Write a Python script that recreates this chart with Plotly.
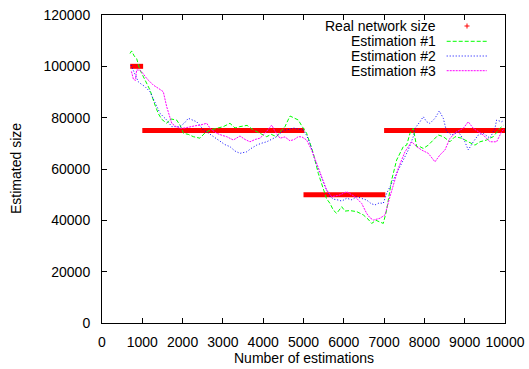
import plotly.graph_objects as go

# ---- data ----
real_x_start = [700, 1000, 5000, 7000]
real_x_end = [1020, 5020, 7030, 10000]
real_value = [100000, 75000, 50000, 75000]

est1_x = [695, 735, 800, 860, 943, 1025, 1110, 1190, 1315, 1400, 1480, 1605, 1700, 1850, 1940, 2020, 2140, 2265, 2430, 2550,
          2680, 2850, 3010, 3175, 3300, 3420, 3600, 3755, 3900, 4085, 4200, 4330, 4450, 4540, 4665, 4760, 4870, 4950, 5037, 5078,
          5160, 5243, 5367, 5491, 5570, 5657, 5740, 5823, 5947, 6030, 6150, 6319, 6484, 6600, 6691, 6800, 6897, 6980, 7063, 7187,
          7270, 7311, 7476, 7560, 7642, 7724, 7808, 7890, 7972, 8097, 8221, 8345, 8469, 8634, 8759, 8924, 9088, 9254, 9378, 9544,
          9709, 9875, 9960]
est1_y = [105000, 106000, 104000, 103000, 98600, 96000, 93500, 90800, 84900, 81500, 79400, 77800, 79500, 79100, 77000, 73900, 73500, 72600, 72000, 74000,
          75200, 75800, 76500, 77800, 76000, 76500, 77000, 75200, 74000, 72600, 73500, 72600, 75000, 76500, 80650, 80000, 79100, 77000, 75200, 73900,
          70100, 66100, 58300, 51800, 48500, 46600, 44000, 42700, 45300, 43600, 43800, 43400, 42100, 40500, 38800, 40000, 39500, 38800, 44000, 55700,
          60900, 63500, 68700, 69300, 73900, 75850, 68700, 68700, 68000, 69300, 71300, 73250, 72600, 70600, 72600, 72000, 70600, 69300, 70600, 71300,
          72600, 75850, 77000]

est2_x = [720, 780, 820, 900, 980, 1067, 1190, 1315, 1440, 1605, 1730, 1935, 2050, 2142, 2250, 2349, 2430, 2514, 2640, 2762,
          2928, 3050, 3176, 3300, 3424, 3590, 3700, 3838, 3950, 4086, 4200, 4334, 4416, 4540, 4650, 4747, 4880, 4995, 5080, 5160,
          5285, 5409, 5533, 5657, 5760, 5863, 5950, 6070, 6200, 6319, 6450, 6567, 6680, 6774, 6880, 6980, 7063, 7187, 7394, 7600,
          7724, 7766, 7890, 7972, 8055, 8138, 8262, 8370, 8469, 8552, 8676, 8842, 9006, 9088, 9213, 9337, 9461, 9627, 9751, 9792,
          9916, 9980]
est2_y = [100500, 98500, 97300, 94000, 93000, 92100, 90100, 85600, 81700, 79100, 76500, 76500, 78000, 79750, 79000, 78400, 77000, 75200, 74000, 72600,
          70600, 69500, 68700, 67000, 66100, 66700, 68000, 69300, 70000, 70600, 71500, 72600, 73900, 75200, 75500, 76000, 75500, 75200, 73000, 70000,
          63500, 58300, 53100, 49200, 48200, 47900, 47500, 48600, 48000, 49200, 48500, 47900, 46500, 46000, 46800, 46600, 50500, 54400, 60900, 67400,
          72600, 75850, 78400, 80400, 78400, 77800, 79750, 82600, 79750, 74500, 73250, 74500, 70600, 67400, 70600, 73250, 73900, 72000, 75850, 79100,
          78400, 79000]

est3_x = [730, 780, 830, 860, 930, 980, 1108, 1273, 1440, 1521, 1605, 1670, 1730, 1835, 1935, 2060, 2183, 2300, 2431, 2597,
          2700, 2846, 3000, 3094, 3258, 3424, 3550, 3672, 3800, 3920, 4050, 4210, 4300, 4416, 4540, 4664, 4770, 4870, 4960, 5078,
          5202, 5326, 5450, 5574, 5698, 5800, 5905, 6070, 6180, 6277, 6443, 6567, 6650, 6732, 6897, 7021, 7145, 7270, 7352, 7518,
          7684, 7808, 7931, 8097, 8262, 8386, 8510, 8634, 8800, 8965, 9088, 9213, 9337, 9461, 9627, 9792, 9916, 9970]
est3_y = [98000, 95000, 94500, 98600, 98500, 98000, 95300, 92700, 91000, 90100, 84300, 80500, 77800, 76500, 75850, 76000, 76500, 76800, 77100, 77800,
          75500, 73900, 73000, 72600, 71300, 72850, 71500, 70600, 71500, 72000, 74000, 77100, 74500, 72000, 72500, 71000, 71500, 72600, 72500, 71300,
          67400, 62200, 57000, 51800, 49200, 49500, 49900, 51150, 50000, 49200, 46600, 42700, 41000, 40100, 40800, 42100, 49200, 56400, 60300, 66700,
          70600, 68700, 67400, 66100, 62800, 65500, 67400, 72000, 74500, 75850, 78400, 75850, 74500, 73250, 70600, 70600, 74500, 75500]

x_ticks = [0, 1000, 2000, 3000, 4000, 5000, 6000, 7000, 8000, 9000, 10000]
y_ticks = [0, 20000, 40000, 60000, 80000, 100000, 120000]

legend_labels = ["Real network size", "Estimation #1", "Estimation #2", "Estimation #3"]

RED = "#ff0000"
GREEN = "#00ff00"
BLUE = "#0000ff"
MAGENTA = "#ff00ff"
FONT = "Liberation Sans, Arial, sans-serif"

fig = go.Figure()

# real network size band
rx, ry = [], []
for a, b, v in zip(real_x_start, real_x_end, real_value):
    rx += [a, b, None]
    ry += [v, v, None]
fig.add_trace(go.Scatter(x=rx, y=ry, mode="lines", line=dict(color=RED, width=5),
                         name=legend_labels[0], showlegend=False, hoverinfo="skip"))

fig.add_trace(go.Scatter(x=est1_x, y=est1_y, mode="lines", name=legend_labels[1], showlegend=False,
                         line=dict(color=GREEN, width=1, dash="4px,2px")))
fig.add_trace(go.Scatter(x=est2_x, y=est2_y, mode="lines", name=legend_labels[2], showlegend=False,
                         line=dict(color=BLUE, width=1, dash="1px,2px")))
fig.add_trace(go.Scatter(x=est3_x, y=est3_y, mode="lines", name=legend_labels[3], showlegend=False,
                         line=dict(color=MAGENTA, width=1, dash="2px,1px")))

W, H = 529, 369
L, R, T, B = 102, 505, 15, 323
pw, ph = R - L, B - T


def px_x(p):
    return (p - L) / pw


def px_y(p):
    return (B - p) / ph


annotations = []
shapes = []
leg_y = [26, 41.3, 56, 70.7]
leg_colors = [RED, GREEN, BLUE, MAGENTA]
leg_dash = [None, "4px,2px", "1px,2px", "2px,1px"]
for i, lab in enumerate(legend_labels):
    annotations.append(dict(x=px_x(438), y=px_y(leg_y[i]), xref="paper", yref="paper",
                            text=lab, showarrow=False, xanchor="right", yanchor="middle",
                            font=dict(family=FONT, size=14, color="black")))
    if i == 0:
        cx, cy = px_x(467), px_y(leg_y[i])
        dx, dy = 2.5 / pw, 2.5 / ph
        shapes.append(dict(type="line", xref="paper", yref="paper", x0=cx - dx, x1=cx + dx, y0=cy, y1=cy,
                           line=dict(color=RED, width=1)))
        shapes.append(dict(type="line", xref="paper", yref="paper", x0=cx, x1=cx, y0=cy - dy, y1=cy + dy,
                           line=dict(color=RED, width=1)))
    else:
        shapes.append(dict(type="line", xref="paper", yref="paper", x0=px_x(446.7), x1=px_x(486.7),
                           y0=px_y(leg_y[i]), y1=px_y(leg_y[i]),
                           line=dict(color=leg_colors[i], width=1, dash=leg_dash[i])))

annotations.append(dict(x=0.5, y=px_y(358), xref="paper", yref="paper", text="Number of estimations",
                        showarrow=False, xanchor="center", yanchor="middle",
                        font=dict(family=FONT, size=14, color="black")))
annotations.append(dict(x=px_x(16), y=0.5, xref="paper", yref="paper", text="Estimated size",
                        showarrow=False, xanchor="center", yanchor="middle", textangle=-90,
                        font=dict(family=FONT, size=14, color="black")))

fig.update_layout(
    width=W, height=H,
    margin=dict(l=L, r=W - R, t=T, b=H - B, pad=0, autoexpand=False),
    paper_bgcolor="white", plot_bgcolor="white",
    showlegend=False,
    annotations=annotations, shapes=shapes,
    font=dict(family=FONT, size=14, color="black"),
)
fig.update_xaxes(range=[0, 10000], tickvals=x_ticks, ticktext=[str(v) for v in x_ticks],
                 ticks="inside", ticklen=5, tickcolor="black", mirror="ticks", automargin=False,
                 showline=True, linecolor="black", linewidth=1, showgrid=False, zeroline=False,
                 tickfont=dict(family=FONT, size=14, color="black"), ticklabelstandoff=6)
fig.update_yaxes(range=[0, 120000], tickvals=y_ticks, ticktext=[str(v) for v in y_ticks],
                 ticks="inside", ticklen=5, tickcolor="black", mirror="ticks", automargin=False,
                 showline=True, linecolor="black", linewidth=1, showgrid=False, zeroline=False,
                 tickfont=dict(family=FONT, size=14, color="black"), ticklabelstandoff=8)

fig.write_html("out.html")
